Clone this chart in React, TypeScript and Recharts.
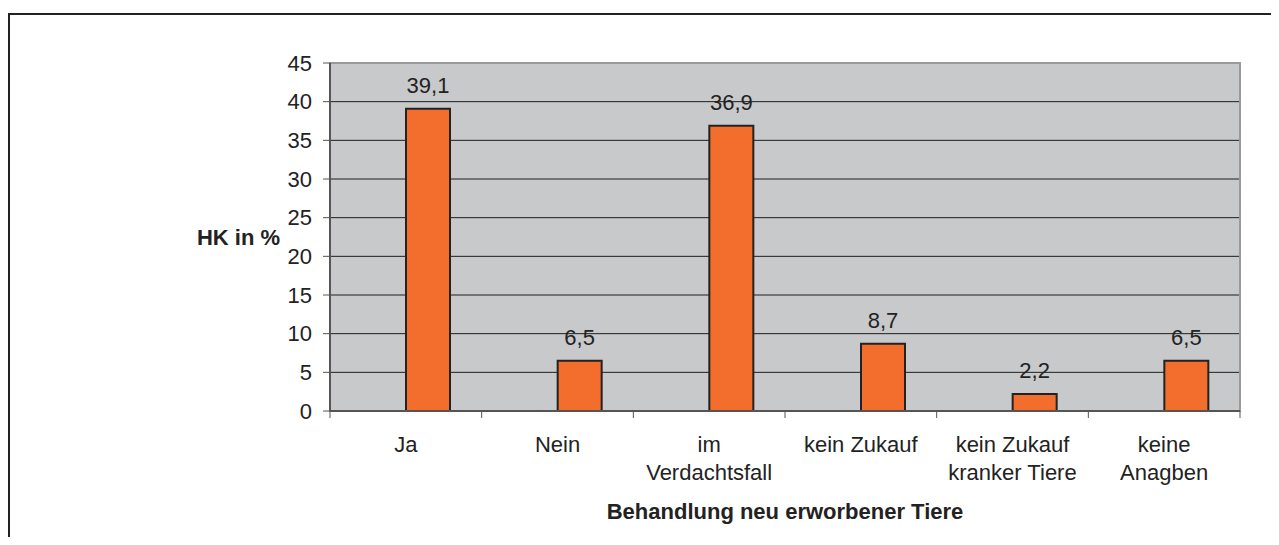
import React from 'react';
import { BarChart, Bar, XAxis, YAxis, CartesianGrid, ReferenceArea, LabelList } from 'recharts';

const categories = ['Ja', 'Nein', 'im\nVerdachtsfall', 'kein Zukauf', 'kein Zukauf\nkranker Tiere', 'keine\nAnagben'];
const shares = [39.1, 6.5, 36.9, 8.7, 2.2, 6.5];
const yTicks = [0, 5, 10, 15, 20, 25, 30, 35, 40, 45];

const data = categories.map((name, i) => ({ name, hk: shares[i] }));

const FONT = '"Liberation Sans", Arial, sans-serif';

// category labels sit between ticks; Excel-style ticks mark the category borders
const CategoryTick = (props: any) => {
    const { x, y, payload, index, visibleTicksCount, width } = props;
    const band = width / visibleTicksCount;
    const lines = String(payload.value).split('\n');
    return (
        <g>
            <line x1={x - band / 2} x2={x - band / 2} y1={y} y2={y + 7} stroke="#555" strokeWidth={1} />
            {index === visibleTicksCount - 1 && (
                <line x1={x + band / 2} x2={x + band / 2} y1={y} y2={y + 7} stroke="#555" strokeWidth={1} />
            )}
            <text x={x} textAnchor="middle" fill="#222" fontSize={22} fontFamily={FONT}>
                {lines.map((l, i) => (
                    <tspan key={i} x={x} y={y + 41 + i * 28}>{l}</tspan>
                ))}
            </text>
        </g>
    );
};

const formatValue = (v: any) => String(v).replace('.', ',');

const App: React.FC = () => {
    return (
        <div style={{ position: 'relative', width: 1271, height: 537, marginBottom: -8, overflow: 'hidden', background: '#fff' }}>
            <div
                style={{
                    position: 'absolute',
                    left: 0,
                    top: 5,
                    width: 1400,
                    height: 700,
                    borderTop: '2.5px solid #222',
                    borderLeft: '2.5px solid #222',
                }}
            />
            <div style={{ position: 'absolute', left: 0, top: 0 }}>
                <BarChart
                    width={1271}
                    height={537}
                    data={data}
                    margin={{ top: 55, right: 39, bottom: 0, left: 0 }}
                    barGap={0}
                    style={{ fontFamily: FONT }}
                >
                    <CartesianGrid vertical={false} stroke="#1e1e1e" fill="#c8c9cb" fillOpacity={1} />
                    <ReferenceArea y1={0} y2={45} fill="none" stroke="#9a9a9a" strokeWidth={2} />
                    <XAxis
                        dataKey="name"
                        height={134}
                        interval={0}
                        tickLine={false}
                        tickSize={0}
                        tickMargin={0}
                        axisLine={{ stroke: '#555', strokeWidth: 2 }}
                        tick={<CategoryTick />}
                        label={{
                            value: 'Behandlung neu erworbener Tiere',
                            position: 'insideBottom',
                            offset: 26,
                            fontSize: 22,
                            fontWeight: 'bold',
                            fill: '#222',
                            fontFamily: FONT,
                        }}
                    />
                    <YAxis
                        width={322}
                        domain={[0, 45]}
                        ticks={yTicks}
                        interval={0}
                        tickSize={7}
                        tickMargin={11}
                        tickLine={{ stroke: '#555' }}
                        axisLine={{ stroke: '#555', strokeWidth: 2 }}
                        tick={{ fontSize: 22, fill: '#222', fontFamily: FONT }}
                        label={{
                            value: 'HK in %',
                            position: 'insideRight',
                            offset: 50,
                            fontSize: 22,
                            fontWeight: 'bold',
                            fill: '#222',
                            fontFamily: FONT,
                        }}
                    />
                    {/* empty first series, as in the source sheet, pushes the bars right of centre */}
                    <Bar dataKey="empty" barSize={44} isAnimationActive={false} />
                    <Bar dataKey="hk" barSize={44} fill="#f36d2c" stroke="#222" strokeWidth={2} isAnimationActive={false}>
                        <LabelList
                            dataKey="hk"
                            position="top"
                            offset={16}
                            formatter={formatValue}
                            style={{ fontSize: 22, fill: '#222', fontFamily: FONT }}
                        />
                    </Bar>
                </BarChart>
            </div>
        </div>
    );
};

export default App;
